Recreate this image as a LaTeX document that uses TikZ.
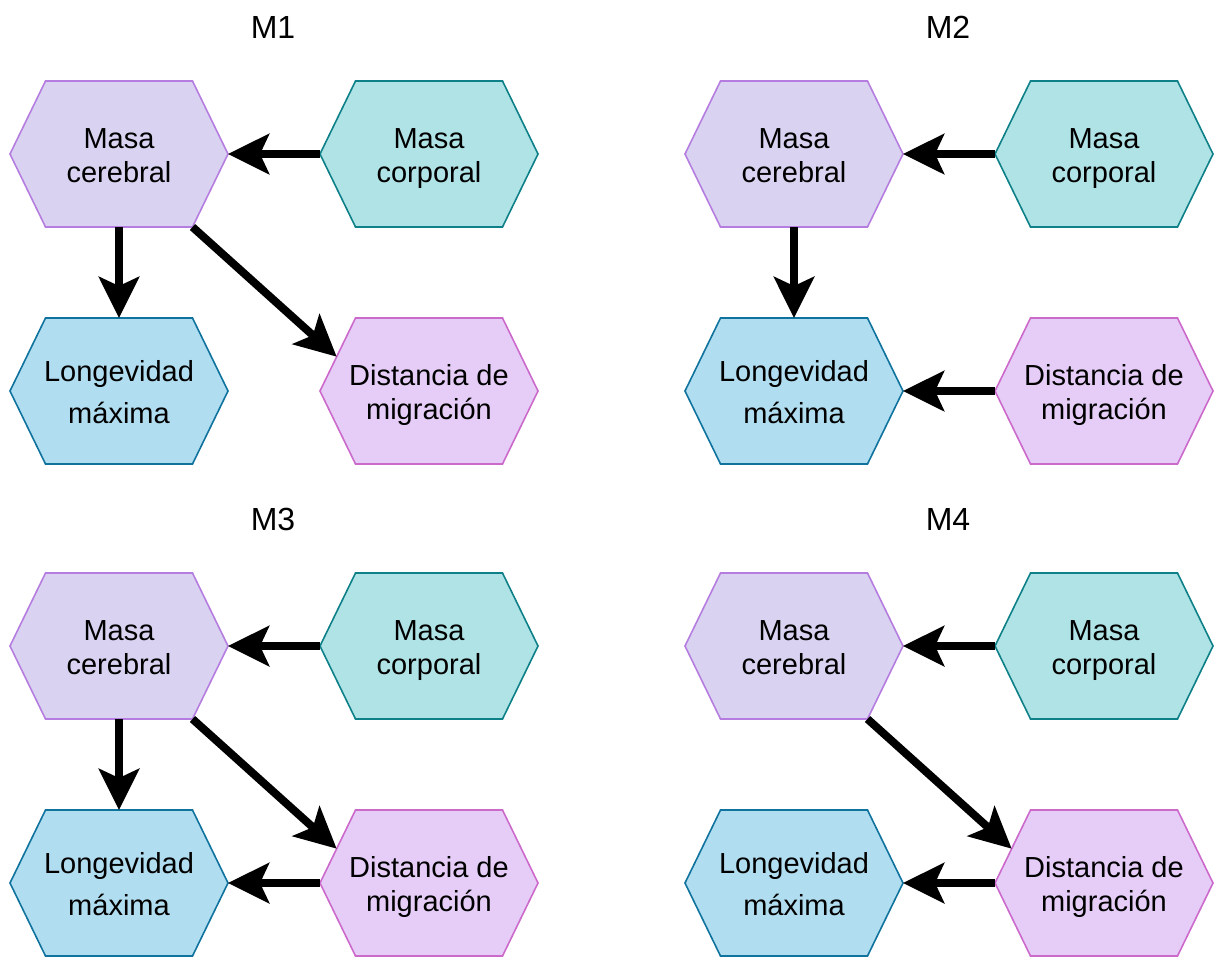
\documentclass[tikz,border=0pt]{standalone}
\usepackage{fontspec}
\setmainfont{Liberation Sans}
\usetikzlibrary{arrows.meta,calc}
\definecolor{cerF}{HTML}{D9D3F1}
\definecolor{cerD}{HTML}{B67DE0}
\definecolor{corF}{HTML}{B0E3E6}
\definecolor{corD}{HTML}{0E8088}
\definecolor{lonF}{HTML}{B1DDF0}
\definecolor{lonD}{HTML}{10739E}
\definecolor{disF}{HTML}{E6CDF7}
\definecolor{disD}{HTML}{CC6ACC}
\tikzset{
  hexline/.style={line width=1.2pt, line join=miter},
  hexbox/.style={minimum width=163.5pt, minimum height=109.5pt, inner sep=0pt, outer sep=0pt,
    align=center, font=\fontsize{21.75pt}{26pt}\selectfont},
  ttl/.style={anchor=base, font=\fontsize{24pt}{28pt}\selectfont, inner sep=0pt},
  arr/.style={line width=6pt, -{Stealth[length=30.75pt,width=30pt,inset=6.75pt]}},
}
\newcommand\tua{\rule{0pt}{22.5pt}}
\newcommand\tub{\rule[-5.25pt]{0pt}{5.25pt}}
\newcommand\hexn[6]{%
  \filldraw[hexline, fill=#4, draw=#5] (#2-109,#3) -- (#2-73.5,#3-73) -- (#2+73.5,#3-73)
     -- (#2+109,#3) -- (#2+73.5,#3+73) -- (#2-73.5,#3+73) -- cycle;
  \node[hexbox] (#1) at (#2,#3) {#6};
  \coordinate (#1-tl) at (#2-73.5,#3-73);
  \coordinate (#1-br) at (#2+73.5,#3+73);
}
\newcommand\panel[3]{% prefix, dx, dy
  \hexn{#1cer}{119+#2}{154+#3}{cerF}{cerD}{\tua Masa\\cerebral\tub}
  \hexn{#1cor}{429+#2}{154+#3}{corF}{corD}{\tua Masa\\corporal\tub}
  \hexn{#1lon}{119+#2}{391+#3}{lonF}{lonD}{\tua Longevidad\\[6.2pt]máxima\tub}
  \hexn{#1dis}{429+#2}{391+#3}{disF}{disD}{\tua Distancia de\\migración\tub}
}
\begin{document}
\begin{tikzpicture}[x=0.75pt,y=-0.75pt]
\useasboundingbox (0,0) rectangle (1214,958);
\node[ttl] (t1) at (273,38.3) {M1};
\node[ttl] (t2) at (948,38.3) {M2};
\node[ttl] (t3) at (273,530.3) {M3};
\node[ttl] (t4) at (948,530.3) {M4};
\panel{a}{0}{0}
\panel{b}{675}{0}
\panel{c}{0}{492}
\panel{d}{675}{492}
% M1
\draw[arr] (acor.west) -- (acer.east);
\draw[arr] (acer.south) -- (alon.north);
\draw[arr] (acer-br) -- ($(adis.west)!0.47!(adis-tl)$);
% M2
\draw[arr] (bcor.west) -- (bcer.east);
\draw[arr] (bcer.south) -- (blon.north);
\draw[arr] (bdis.west) -- (blon.east);
% M3
\draw[arr] (ccor.west) -- (ccer.east);
\draw[arr] (ccer.south) -- (clon.north);
\draw[arr] (ccer-br) -- ($(cdis.west)!0.47!(cdis-tl)$);
\draw[arr] (cdis.west) -- (clon.east);
% M4
\draw[arr] (dcor.west) -- (dcer.east);
\draw[arr] (dcer-br) -- ($(ddis.west)!0.47!(ddis-tl)$);
\draw[arr] (ddis.west) -- (dlon.east);
\end{tikzpicture}
\end{document}
